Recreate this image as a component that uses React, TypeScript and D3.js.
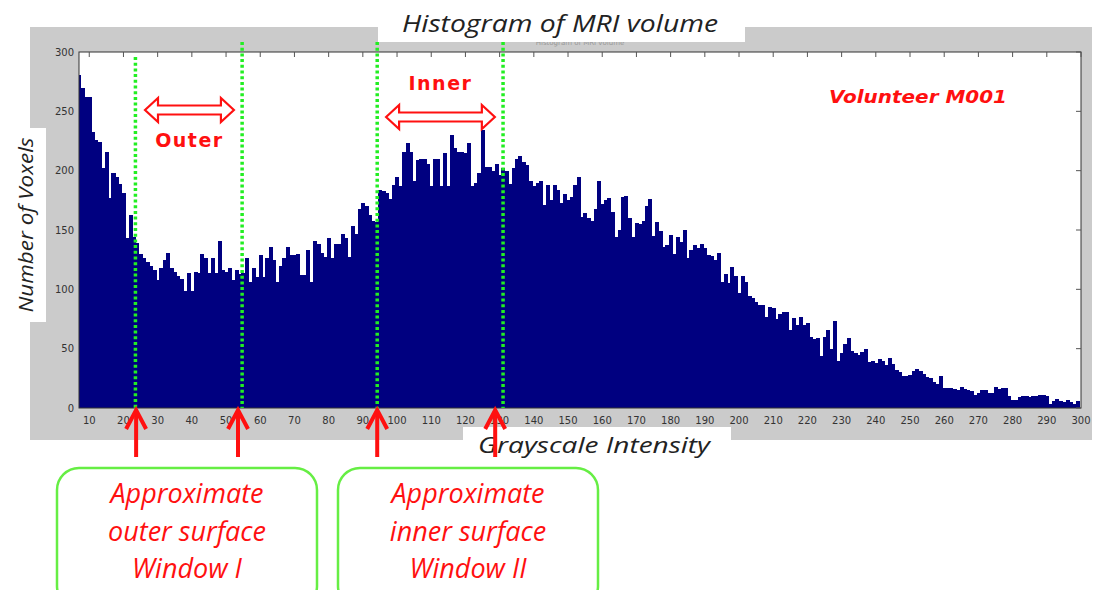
import React from 'react';
import * as d3 from 'd3';

// histogram bins start at intensity 7, one count per integer bin
const binStart = 7;
const counts = [
  281, 270, 262, 262, 233, 226, 224, 202, 216, 177, 198, 195, 189, 181, 143, 163, 144,
  139, 130, 126, 123, 120, 116, 108, 118, 125, 131, 118, 115, 111, 109, 99, 114, 99,
  115, 114, 130, 126, 114, 126, 114, 141, 116, 115, 118, 108, 116, 113, 114, 126, 106,
  118, 110, 129, 110, 126, 136, 125, 106, 120, 126, 136, 129, 129, 130, 112, 112, 133,
  106, 141, 138, 131, 127, 143, 126, 138, 138, 147, 143, 127, 153, 147, 168, 173, 170,
  163, 158, 157, 184, 183, 181, 176, 188, 195, 187, 216, 223, 216, 191, 209, 210, 210,
  206, 187, 210, 210, 187, 215, 187, 230, 219, 216, 216, 215, 223, 187, 190, 198, 234,
  203, 203, 200, 206, 196, 202, 200, 189, 202, 210, 212, 207, 205, 191, 187, 190, 191,
  171, 188, 175, 188, 184, 173, 180, 175, 178, 188, 195, 161, 164, 160, 158, 168, 191,
  172, 175, 177, 165, 144, 150, 178, 179, 160, 144, 156, 155, 158, 170, 176, 145, 157,
  149, 136, 137, 146, 130, 144, 140, 150, 126, 133, 137, 135, 138, 135, 129, 128, 125,
  131, 106, 113, 105, 119, 111, 97, 111, 106, 94, 93, 89, 87, 87, 77, 85, 84, 75, 79,
  81, 81, 66, 76, 70, 77, 70, 72, 60, 58, 59, 44, 60, 66, 50, 73, 40, 46, 54, 59, 48,
  46, 45, 47, 50, 39, 40, 38, 41, 40, 36, 42, 37, 32, 30, 27, 27, 28, 31, 33, 31, 29,
  26, 25, 22, 20, 27, 17, 17, 17, 16, 15, 18, 16, 15, 14, 11, 13, 15, 15, 13, 13, 18,
  16, 17, 17, 10, 7, 7, 9, 10, 10, 9, 10, 10, 11, 11, 10, 3, 6, 8, 6, 5, 7, 5, 3, 6,
];

const xTicks = [10, 20, 30, 40, 50, 60, 70, 80, 90, 100, 110, 120, 130, 140, 150, 160, 170, 180, 190, 200, 210, 220, 230, 240, 250, 260, 270, 280, 290, 300];
const yTicks = [0, 50, 100, 150, 200, 250, 300];

// window edges (green dotted) and the arrows pointing at them
const windowEdges = [23.5, 54.7, 94.2, 131.0];
const arrowMarks = [23.7, 53.5, 94.2, 128.7];
const windowSpans = [
  { name: 'Outer', from: 26.3, to: 52.3 },
  { name: 'Inner', from: 96.8, to: 128.6 },
];
const boxLines = [
  ['Approximate', 'outer surface', 'Window I'],
  ['Approximate', 'inner surface', 'Window II'],
];

const W = 1094, H = 590;
const plot = { left: 79, right: 1081, top: 52, bottom: 408 };
const navy = '#000080';
const red = '#ff1010';
const green = '#22ee22';

const x = d3.scaleLinear().domain([binStart, 300]).range([plot.left, plot.right]);
const y = d3.scaleLinear().domain([0, 300]).range([plot.bottom, plot.top]);

function doubleArrow(x1: number, x2: number, cy: number) {
  const hl = 13, hh = 12, sh = 4.5;
  const p = d3.path();
  p.moveTo(x1, cy);
  p.lineTo(x1 + hl, cy - hh); p.lineTo(x1 + hl, cy - sh);
  p.lineTo(x2 - hl, cy - sh); p.lineTo(x2 - hl, cy - hh);
  p.lineTo(x2, cy);
  p.lineTo(x2 - hl, cy + hh); p.lineTo(x2 - hl, cy + sh);
  p.lineTo(x1 + hl, cy + sh); p.lineTo(x1 + hl, cy + hh);
  p.closePath();
  return p.toString();
}

export default function App() {
  const labelFont = '"Open Sans", sans-serif';
  const tickFont = '"DejaVu Sans", sans-serif';
  const spanY = [110, 117];
  const spanTextY = [147, 90];
  const lineTop = [57, 42, 42, 42];
  const boxX = [57, 338];

  return (
    <div style={{ position: 'fixed', left: 0, top: 0 }}>
      <svg width={W} height={H} style={{ display: 'block', background: '#fff' }}>
        <defs>
          <clipPath id="plotClip">
            <rect x={plot.left} y={plot.top} width={plot.right - plot.left} height={plot.bottom - plot.top} />
          </clipPath>
        </defs>

        {/* grey figure frame */}
        <rect x={30} y={27} width={1062} height={413} fill="#cbcbcb" />
        <rect x={plot.left} y={plot.top} width={plot.right - plot.left} height={plot.bottom - plot.top} fill="#fff" />

        {/* bars */}
        <g clipPath="url(#plotClip)" shapeRendering="crispEdges">
          {counts.map((c, i) => {
            const v = binStart + i;
            const x0 = x(v - 0.5), x1 = x(v + 0.5);
            return (
              <rect key={i} x={x0} y={y(c)} width={x1 - x0 + 0.6} height={plot.bottom - y(c)} fill={navy} />
            );
          })}
        </g>

        {/* axes box and ticks */}
        <rect x={plot.left} y={plot.top} width={plot.right - plot.left} height={plot.bottom - plot.top}
          fill="none" stroke="#333" strokeWidth={1} />
        {xTicks.map(t => (
          <g key={'xt' + t}>
            <line x1={x(t)} x2={x(t)} y1={plot.top} y2={plot.top + 5} stroke="#555" />
            <text x={x(t)} y={424} textAnchor="middle" fontSize={10} fontFamily={tickFont} fill="#333">{t}</text>
          </g>
        ))}
        {yTicks.map(t => (
          <g key={'yt' + t}>
            <line x1={plot.right} x2={plot.right - 5} y1={y(t)} y2={y(t)} stroke="#555" />
            <text x={74} y={y(t)} dy="0.35em" textAnchor="end" fontSize={10} fontFamily={tickFont} fill="#333">{t}</text>
          </g>
        ))}

        {/* title */}
        <text x={580} y={45} textAnchor="middle" fontSize={7} fontFamily={tickFont} fill="#999">Histogram of MRI volume</text>
        <rect x={378} y={8} width={367} height={34} fill="#fff" />
        <text x={560} y={32} textAnchor="middle" fontSize={23} fontStyle="italic" fontFamily={labelFont}
          fill="#222" textLength={316} lengthAdjust="spacingAndGlyphs">Histogram of MRI volume</text>

        {/* axis labels */}
        <rect x={8} y={128} width={38} height={194} fill="#fff" />
        <text transform="translate(33,225) rotate(-90)" textAnchor="middle" fontSize={20} fontStyle="italic"
          fontFamily={labelFont} fill="#222" textLength={175} lengthAdjust="spacingAndGlyphs">Number of Voxels</text>
        <rect x={463} y={427} width={268} height={36} fill="#fff" />
        <text x={594} y={453} textAnchor="middle" fontSize={21} fontStyle="italic" fontFamily={labelFont}
          fill="#222" textLength={232} lengthAdjust="spacingAndGlyphs">Grayscale Intensity</text>

        {/* window edges */}
        {windowEdges.map((v, i) => (
          <line key={'we' + i} x1={x(v)} x2={x(v)} y1={lineTop[i]} y2={plot.bottom}
            stroke={green} strokeWidth={3.5} strokeDasharray="3 2.7" />
        ))}

        {/* window spans */}
        {windowSpans.map((s, i) => (
          <g key={s.name}>
            <path d={doubleArrow(x(s.from), x(s.to), spanY[i])} fill="#fff" stroke={red} strokeWidth={2.2} strokeLinejoin="miter" />
            <text x={(x(s.from) + x(s.to)) / 2} y={spanTextY[i]} textAnchor="middle" fontSize={19}
              fontWeight="bold" fontFamily={tickFont} fill={red} letterSpacing={1.5}>{s.name}</text>
          </g>
        ))}
        <text x={918} y={103} textAnchor="middle" fontSize={17} fontWeight="bold" fontStyle="italic"
          fontFamily={tickFont} fill={red} textLength={178} lengthAdjust="spacingAndGlyphs">Volunteer M001</text>

        {/* red arrows below axis */}
        {arrowMarks.map((v, i) => (
          <g key={'am' + i} stroke={red} strokeWidth={4} fill="none">
            <line x1={x(v)} x2={x(v)} y1={411} y2={457} />
            <polyline points={`${x(v) - 10},${429} ${x(v)},${410} ${x(v) + 10},${429}`} strokeLinejoin="miter" />
          </g>
        ))}

        {/* callout boxes */}
        {boxLines.map((lines, i) => (
          <g key={'bx' + i}>
            <rect x={boxX[i]} y={468} width={260} height={140} rx={22} fill="#fff" stroke="#66ee44" strokeWidth={2.5} />
            {lines.map((ln, j) => (
              <text key={j} x={boxX[i] + 130} y={503 + j * 37.5} textAnchor="middle" fontSize={27}
                fontStyle="italic" fontFamily={labelFont} fill={red}>{ln}</text>
            ))}
          </g>
        ))}
      </svg>
    </div>
  );
}
